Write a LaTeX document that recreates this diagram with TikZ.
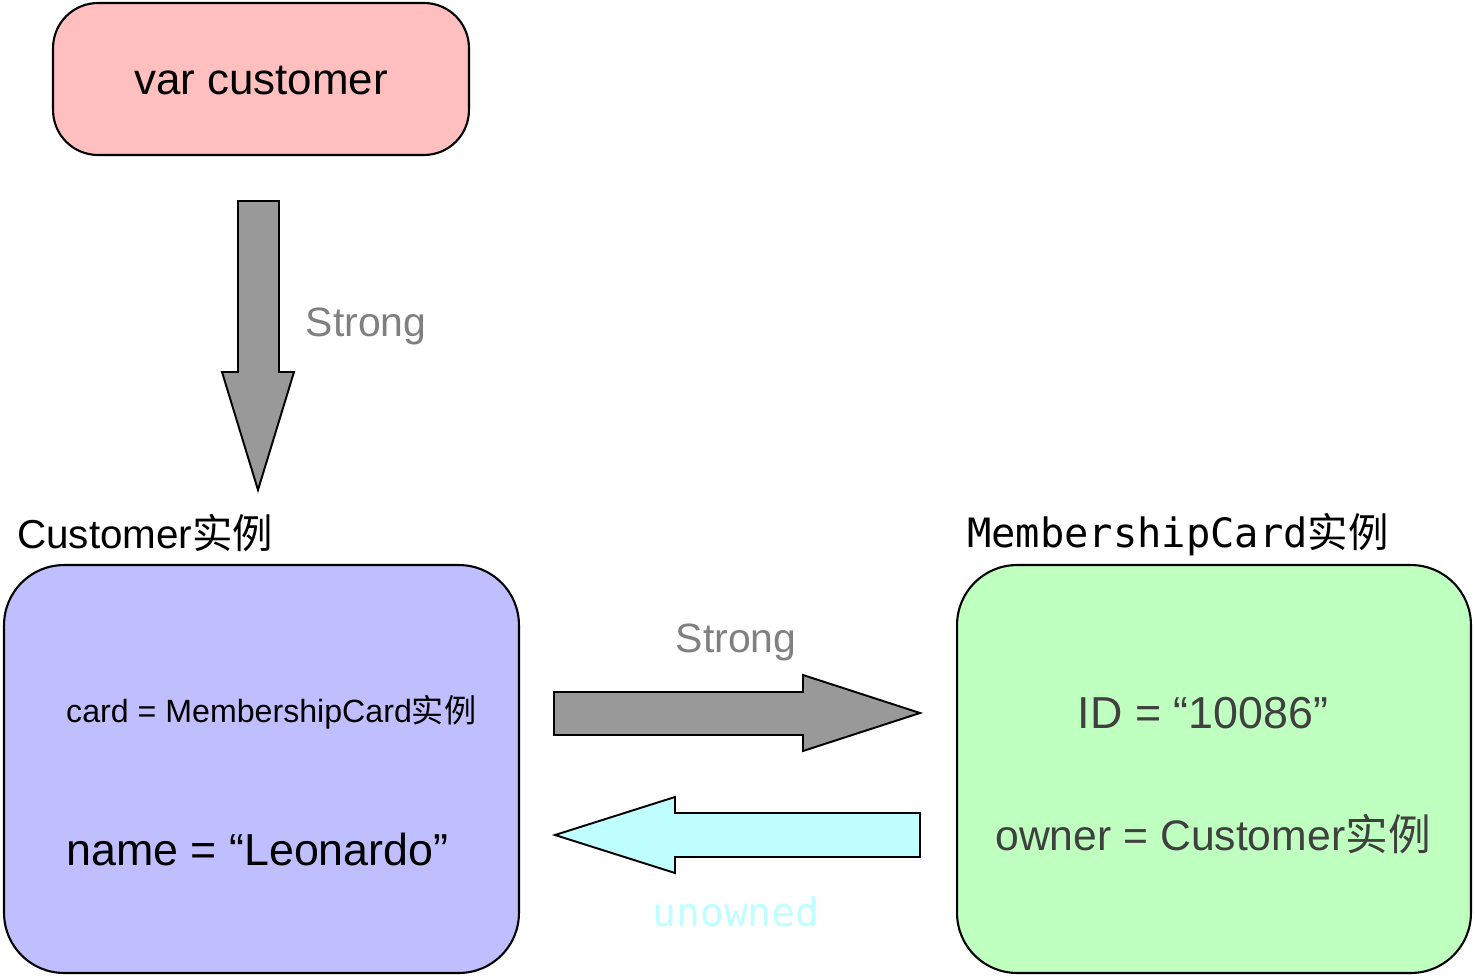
\documentclass[tikz,border=0pt]{standalone}
\usepackage{fontspec}
\usepackage{tikz}
\setmainfont{Liberation Sans}
\setmonofont{DejaVu Sans Mono}
\newfontfamily\cjk{Noto Sans CJK SC}
\definecolor{black}{RGB}{0,0,0}
\definecolor{pink_red}{RGB}{255,191,191}
\definecolor{lavender}{RGB}{191,191,255}
\definecolor{mint_green}{RGB}{191,255,191}
\definecolor{light_cyan}{RGB}{191,255,255}
\definecolor{mid_gray}{RGB}{153,153,153}
\definecolor{label_gray}{RGB}{128,128,128}
\definecolor{dark_gray}{RGB}{64,64,64}

\begin{document}
\begin{tikzpicture}[x=0.02cm,y=-0.02cm,
	box/.style={draw=black,line width=1.2pt,inner sep=0pt},
	block/.style={draw=black,line width=1.1pt,line join=miter},
	big/.style={font=\fontsize{25}{30}\selectfont}]
	\useasboundingbox (0,0) rectangle (1475,977);

	\node[box,fill=pink_red,rounded corners=0.9cm,minimum width=8.32cm,minimum height=3.04cm] (var) at (261,79) {};
	\node[big] (vartext) at (261,81) {var customer};

	\node[box,fill=lavender,rounded corners=1.2cm,minimum width=10.3cm,minimum height=8.16cm] (customer) at (261.5,769) {};
	\node[box,fill=mint_green,rounded corners=1.2cm,minimum width=10.28cm,minimum height=8.16cm] (card) at (1214,769) {};

	\node[anchor=west,font=\fontsize{23}{28}\selectfont] (customerlabel) at (11,533) {Customer{\cjk 实例}};
	\node[anchor=west,font=\fontsize{23}{28}\selectfont\ttfamily] (cardlabel) at (961,535) {MembershipCard{\cjk 实例}};

	\node[anchor=west,font=\fontsize{18.3}{22}\selectfont] (cardfield) at (60,712) {card = MembershipCard{\cjk 实例}};
	\node[anchor=west,font=\fontsize{25.5}{30}\selectfont] (namefield) at (60,849) {name = “Leonardo”};
	\node[font=\fontsize{25.5}{30}\selectfont,text=dark_gray] (idfield) at (1203,713) {ID = “10086”};
	\node[font=\fontsize{24.3}{30}\selectfont,text=dark_gray] (ownerfield) at (1213,834) {owner = Customer{\cjk 实例}};

	% block arrows
	\draw[block,fill=mid_gray] (238,201) -- (279,201) -- (279,372) -- (294,372) -- (258,490) -- (222,372) -- (238,372) -- cycle;
	\draw[block,fill=mid_gray] (554,692) -- (803,692) -- (803,675) -- (920,713) -- (803,751) -- (803,735) -- (554,735) -- cycle;
	\draw[block,fill=light_cyan] (920,813) -- (675,813) -- (675,797) -- (555,835) -- (675,873) -- (675,857) -- (920,857) -- cycle;

	\node[font=\fontsize{23.3}{28}\selectfont,text=label_gray] (strongdown) at (366,326) {Strong};
	\node[font=\fontsize{23.3}{28}\selectfont,text=label_gray] (strongright) at (736,642) {Strong};
	\node[font=\fontsize{22.6}{28}\selectfont\ttfamily,text=light_cyan] (unowned) at (736,912) {unowned};
\end{tikzpicture}
\end{document}
